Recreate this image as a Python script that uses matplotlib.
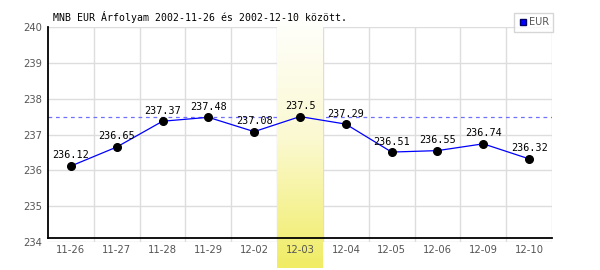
import numpy as np
import matplotlib
matplotlib.use("Agg")
import matplotlib.pyplot as plt
from matplotlib.lines import Line2D
from matplotlib.colors import LinearSegmentedColormap

categories = ["11-26", "11-27", "11-28", "11-29", "12-02", "12-03",
              "12-04", "12-05", "12-06", "12-09", "12-10"]
values = [236.12, 236.65, 237.37, 237.48, 237.08, 237.5,
          237.29, 236.51, 236.55, 236.74, 236.32]
value_labels = ["236.12", "236.65", "237.37", "237.48", "237.08", "237.5",
                "237.29", "236.51", "236.55", "236.74", "236.32"]
y_ticks = [234, 235, 236, 237, 238, 239, 240]
max_value = 237.5
highlight_index = 5
title = "MNB EUR Árfolyam 2002-11-26 és 2002-12-10 között."
series_name = "EUR"

fig = plt.figure(figsize=(6, 2.7), dpi=100)
ax = fig.add_axes([48/600, 1-242/270, (552-48)/600, (242-27)/270])
ax.set_axisbelow(False)
n = len(categories)
x = np.arange(n)
for s in ax.spines.values():
    s.set_visible(False)

grid_c = "#dddddd"
for yv in y_ticks:
    ax.axhline(yv, color=grid_c, lw=1, zorder=1)
for k in range(n):
    ax.axvline(k+0.5, color=grid_c, lw=1, zorder=1)

ax.axhline(max_value, color="#7070ff", lw=0.9, ls=(0, (3, 3)), zorder=2)

# highlight band
ppu = (242-27)/6.0
y_bot = 234 - 26/ppu
y_top = 240 + 15/ppu
cmap = LinearSegmentedColormap.from_list("band", ["#ffffff", "#fbf9d0", "#f0ec64"])
grad = np.linspace(0, 1, 256).reshape(-1, 1)
im = ax.imshow(grad, cmap=cmap, aspect="auto", origin="upper",
               extent=[highlight_index-0.5, highlight_index+0.5, y_bot, y_top],
               zorder=2.2)
im.set_clip_on(False)
ax.set_xlim(-0.5, n-0.5)
ax.set_ylim(234, 240)

# axes lines
y_axis_line = 234 + 4/ppu
ax.plot([-0.5, n-0.5], [y_axis_line, y_axis_line], color="black", lw=1.3, zorder=5, clip_on=False)
ax.plot([-0.5, -0.5], [y_axis_line, 240], color="black", lw=1.3, zorder=5, clip_on=False)

ax.plot(x, values, color="#0000ff", lw=0.9, zorder=6)
ax.plot(x, values, ls="none", marker="o", ms=5.5, color="black", zorder=7)
for xi, v, lab in zip(x, values, value_labels):
    ax.annotate(lab, (xi, v), xytext=(0, 4), textcoords="offset points",
                ha="center", va="bottom", fontsize=7.3, family="DejaVu Sans Mono",
                color="black", zorder=8)

ax.set_xticks(x)
ax.set_xticklabels(categories)
ax.set_yticks(y_ticks)
ax.set_yticklabels([str(t) for t in y_ticks])
ax.tick_params(axis="both", length=0, labelsize=7.2, labelcolor="#555555")
ax.tick_params(axis="x", pad=2)
ax.tick_params(axis="y", pad=4.5)

fig.text(53/600, 1-17/270, title, fontsize=7.1, family="DejaVu Sans Mono",
         va="center", ha="left", color="black")

h = Line2D([], [], ls="none", marker="s", ms=5, mfc="#0000ff", mec="#000066")
leg = fig.legend([h], [series_name], loc="upper right",
                 bbox_to_anchor=(553/600, 1-13/270), borderaxespad=0,
                 fontsize=7, frameon=True, fancybox=False, handlelength=0.8,
                 handletextpad=0.2, borderpad=0.45, labelcolor="#555555")
leg.get_frame().set_edgecolor("#cccccc")
leg.get_frame().set_linewidth(1)

fig.savefig("out.png", dpi=100)
